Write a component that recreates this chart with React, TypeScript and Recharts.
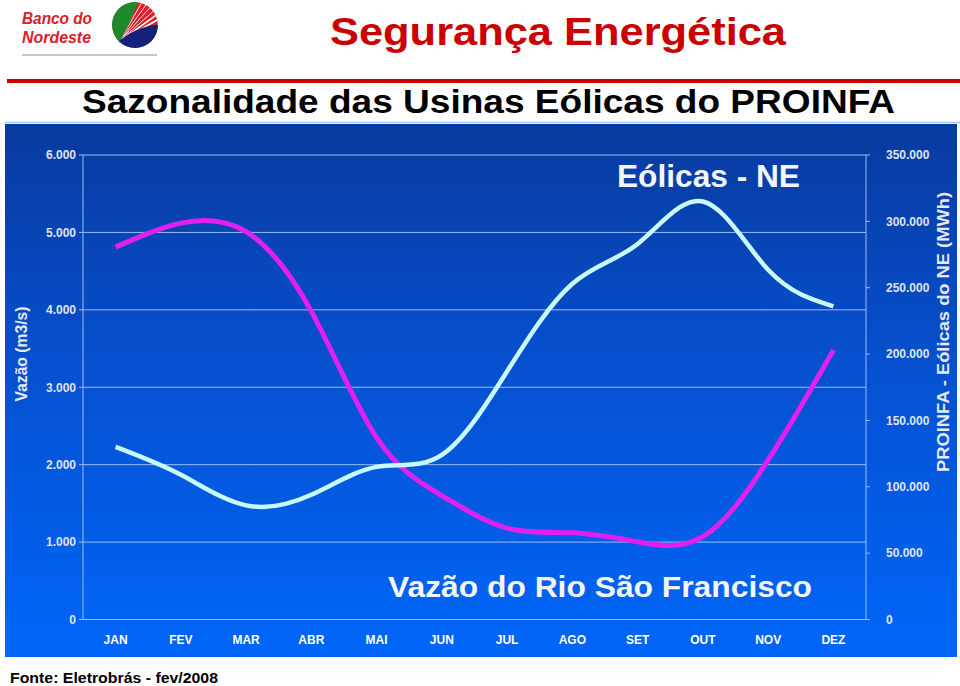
import React from "react";
import { ComposedChart, Line, XAxis, YAxis, CartesianGrid } from "recharts";

// meses
const months = ["JAN", "FEV", "MAR", "ABR", "MAI", "JUN", "JUL", "AGO", "SET", "OUT", "NOV", "DEZ"];
// vazão do rio São Francisco (m3/s) - eixo esquerdo
const vazao = [4810, 5120, 5010, 3980, 2350, 1600, 1180, 1120, 1005, 1070, 2060, 3480];
// geração eólica PROINFA NE (MWh) - eixo direito
const eolicas = [130000, 109000, 86000, 94000, 115000, 124000, 187000, 253000, 283000, 315000, 263500, 236000];

const vazaoTicks = [0, 1000, 2000, 3000, 4000, 5000, 6000];
const eolicasTicks = [0, 50000, 100000, 150000, 200000, 250000, 300000, 350000];

const data = months.map((m, i) => ({ mes: m, vazao: vazao[i], eolicas: eolicas[i] }));

const FONT = '"Liberation Sans", Arial, Helvetica, sans-serif';
const GRID = "#9dbdf5";

const fmt = (v: number) => String(v).replace(/\B(?=(\d{3})+(?!\d))/g, ".");

const tickStyle = { fill: "#dfe4f0", fontSize: 12, fontWeight: "bold", fontFamily: FONT };

function Logo() {
  const cx = 135, cy = 25, r = 23;
  const ox = 119, oy = 42;
  const rays = [-84, -78, -72, -66, -60, -54, -48, -42, -36, -30, -24, -18, -12, -6];
  return (
    <g>
      <defs>
        <clipPath id="logoClip">
          <circle cx={cx} cy={cy} r={r} />
        </clipPath>
      </defs>
      <g clipPath="url(#logoClip)">
        <circle cx={cx} cy={cy} r={r} fill="#d8202a" />
        {rays.map((a) => {
          const rad = (a * Math.PI) / 180;
          return (
            <line
              key={a}
              x1={ox}
              y1={oy}
              x2={ox + 70 * Math.cos(rad)}
              y2={oy + 70 * Math.sin(rad)}
              stroke="#fff"
              strokeWidth={a > -40 ? 1.6 : 0.9}
            />
          );
        })}
        <path d={`M139,0 L100,0 L100,50 L${ox},${oy + 2} Q131,22 139,0 Z`} fill="#1f8a2c" />
        <path d={`M${ox - 2},${oy + 1} Q134,27 160,24 L160,60 L100,60 Z`} fill="#14207a" />
      </g>
      <text x={22} y={24} fontFamily={FONT} fontStyle="italic" fontWeight="bold" fontSize={17} fill="#d8202a" textLength={70} lengthAdjust="spacingAndGlyphs">
        Banco do
      </text>
      <text x={22} y={43} fontFamily={FONT} fontStyle="italic" fontWeight="bold" fontSize={17} fill="#d8202a" textLength={69} lengthAdjust="spacingAndGlyphs">
        Nordeste
      </text>
      <line x1={22} y1={55} x2={157} y2={55} stroke="#a08888" strokeWidth={1} />
    </g>
  );
}

export default function App() {
  return (
    <div style={{ position: "absolute", left: 0, top: 0, width: 960, height: 686, background: "#fff", overflow: "hidden" }}>
      <div
        style={{
          position: "absolute",
          left: 5,
          top: 124,
          width: 952,
          height: 533,
          background: "linear-gradient(180deg, #083a9e 0%, #0650cf 45%, #0066f8 100%)",
        }}
      >
        <ComposedChart width={952} height={533} data={data} margin={{ top: 31, right: 0, bottom: 0, left: 0 }}>
          <CartesianGrid yAxisId="left" vertical={false} stroke={GRID} strokeWidth={1} />
          <XAxis
            dataKey="mes"
            height={37.5}
            padding={{ left: 32.6, right: 32.6 }}
            tickLine={false}
            axisLine={{ stroke: GRID }}
            tickMargin={10}
            tick={{ ...tickStyle, fill: "#ffffff" }}
          />
          <YAxis
            yAxisId="left"
            domain={[0, 6000]}
            ticks={vazaoTicks}
            width={78}
            tickSize={4}
            tickMargin={3}
            tickFormatter={fmt}
            axisLine={{ stroke: GRID }}
            tickLine={{ stroke: GRID }}
            tick={tickStyle}
            label={{
              content: () => (
                <text
                  x={16}
                  y={230}
                  transform="rotate(-90 16 230)"
                  textAnchor="middle"
                  dominantBaseline="central"
                  fontFamily={FONT}
                  fontWeight="bold"
                  fontSize={16}
                  fill="#e6eaf4"
                  textLength={95}
                  lengthAdjust="spacingAndGlyphs"
                >
                  Vazão (m3/s)
                </text>
              ),
            }}
          />
          <YAxis
            yAxisId="right"
            orientation="right"
            domain={[0, 350000]}
            ticks={eolicasTicks}
            width={91}
            tickSize={4}
            tickMargin={16}
            tickFormatter={fmt}
            axisLine={{ stroke: GRID }}
            tickLine={{ stroke: GRID }}
            tick={tickStyle}
            label={{
              content: () => (
                <text
                  x={938}
                  y={208}
                  transform="rotate(-90 938 208)"
                  textAnchor="middle"
                  dominantBaseline="central"
                  fontFamily={FONT}
                  fontWeight="bold"
                  fontSize={17}
                  fill="#e6eaf4"
                  textLength={280}
                  lengthAdjust="spacingAndGlyphs"
                >
                  PROINFA - Eólicas do NE (MWh)
                </text>
              ),
            }}
          />
          <Line
            yAxisId="left"
            dataKey="vazao"
            name="Vazão do Rio São Francisco"
            type="natural"
            stroke="#e120f0"
            strokeWidth={5}
            dot={false}
            isAnimationActive={false}
          />
          <Line
            yAxisId="right"
            dataKey="eolicas"
            name="Eólicas - NE"
            type="natural"
            stroke="#c8fbff"
            strokeWidth={4.5}
            dot={false}
            isAnimationActive={false}
          />
        </ComposedChart>
      </div>
      <svg width={960} height={686} style={{ position: "absolute", left: 0, top: 0, pointerEvents: "none" }}>
        <Logo />
        <text x={330} y={45} fontFamily={FONT} fontWeight="bold" fontSize={38} fill="#cc0000" textLength={456} lengthAdjust="spacingAndGlyphs">
          Segurança  Energética
        </text>
        <rect x={7} y={79} width={953} height={4} fill="#cc0000" />
        <text x={82} y={113} fontFamily={FONT} fontWeight="bold" fontSize={34} fill="#000" textLength={813} lengthAdjust="spacingAndGlyphs">
          Sazonalidade das Usinas Eólicas do PROINFA
        </text>
        <line x1={5} y1={122.5} x2={960} y2={122.5} stroke="#a0c8f0" strokeWidth={1.5} />
        <text x={617} y={187} fontFamily={FONT} fontWeight="bold" fontSize={31} fill="#f4f6fa" textLength={183} lengthAdjust="spacingAndGlyphs">
          Eólicas - NE
        </text>
        <text x={388} y={596.5} fontFamily={FONT} fontWeight="bold" fontSize={30} fill="#f4f6fa" textLength={424} lengthAdjust="spacingAndGlyphs">
          Vazão do Rio São Francisco
        </text>
        <text x={10} y={683} fontFamily={FONT} fontWeight="bold" fontSize={15} fill="#000" textLength={208} lengthAdjust="spacingAndGlyphs">
          Fonte: Eletrobrás - fev/2008
        </text>
      </svg>
    </div>
  );
}
